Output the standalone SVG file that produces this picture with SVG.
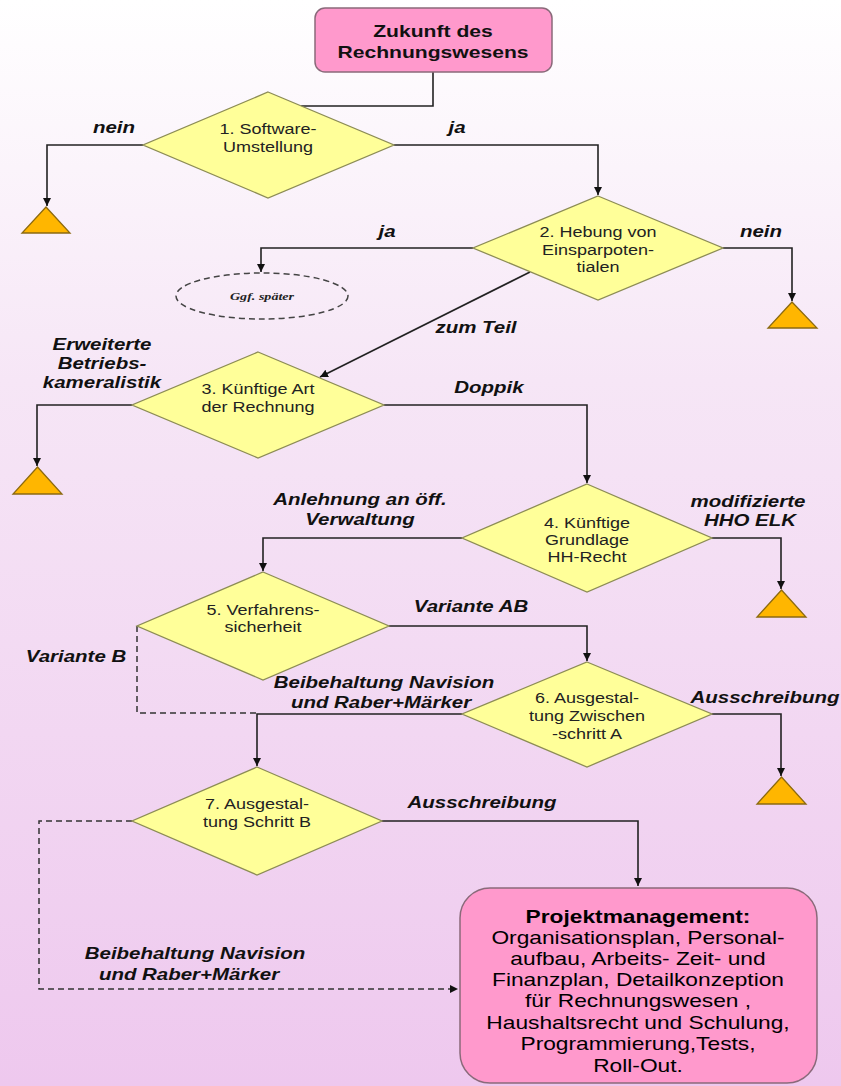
<svg xmlns="http://www.w3.org/2000/svg" width="841" height="1086" viewBox="0 0 841 1086">
<defs>
<linearGradient id="bg" x1="0" y1="0" x2="0" y2="1">
<stop offset="0" stop-color="#FFFFFF"/>
<stop offset="0.35" stop-color="#F6E6F6"/>
<stop offset="1" stop-color="#EEC8EE"/>
</linearGradient>
<marker id="arr" markerWidth="10" markerHeight="10" refX="8" refY="4" orient="auto" markerUnits="userSpaceOnUse">
<path d="M0,0 L8,4 L0,8 Z" fill="#111"/>
</marker>
<style>
.box{fill:#FF99CC;stroke:#8A6A7A;stroke-width:1.5}
.dia{fill:#FFFF99;stroke:#8C8C55;stroke-width:1.3}
.tri{fill:#FFB600;stroke:#8C6A10;stroke-width:1.3}
.con{fill:none;stroke:#222;stroke-width:1.6}
.dash{fill:none;stroke:#333;stroke-width:1.5;stroke-dasharray:6 4}
.dt{font-family:"Liberation Sans",Arial,sans-serif;font-size:15px;fill:#222;text-anchor:middle}
.lb{font-family:"Liberation Sans",Arial,sans-serif;font-size:16px;font-style:italic;font-weight:bold;fill:#111;text-anchor:middle}
.bt{font-family:"Liberation Sans",Arial,sans-serif;font-size:17.5px;fill:#000;text-anchor:middle}
.tt{font-family:"Liberation Sans",Arial,sans-serif;font-size:16.5px;font-weight:bold;fill:#111;text-anchor:middle}
.el{font-family:"Liberation Serif","Times New Roman",serif;font-size:11px;font-style:italic;font-weight:bold;fill:#222;text-anchor:middle}
</style>
</defs>
<rect x="0" y="0" width="841" height="1086" fill="url(#bg)"/>

<g id="connectors">
<polyline class="con" points="433,72 433,106 301,106"/>
<polyline class="con" points="143,145 47,145 47,206" marker-end="url(#arr)"/>
<polyline class="con" points="394,145 598,145 598,195" marker-end="url(#arr)"/>
<polyline class="con" points="473,248 261,248 261,272" marker-end="url(#arr)"/>
<polyline class="con" points="723,248 792,248 792,301" marker-end="url(#arr)"/>
<line class="con" x1="530" y1="272" x2="320" y2="377" marker-end="url(#arr)"/>
<polyline class="con" points="132,405 37,405 37,466" marker-end="url(#arr)"/>
<polyline class="con" points="384,405 587,405 587,483" marker-end="url(#arr)"/>
<polyline class="con" points="462,538 263,538 263,571" marker-end="url(#arr)"/>
<polyline class="con" points="712,538 781,538 781,589" marker-end="url(#arr)"/>
<polyline class="con" points="389,626 587,626 587,661" marker-end="url(#arr)"/>
<polyline class="dash" points="137,626 137,713 257,713"/>
<polyline class="con" points="462,714 257,714 257,766" marker-end="url(#arr)"/>
<polyline class="con" points="712,714 781,714 781,776" marker-end="url(#arr)"/>
<polyline class="con" points="382,821 638,821 638,886" marker-end="url(#arr)"/>
<polyline class="dash" points="132,821 39,821 39,989 458,989" marker-end="url(#arr)"/>
</g>

<g id="labels">
<text class="lb" transform="translate(114,133) scale(1.28,1)">nein</text>
<text class="lb" transform="translate(457,133) scale(1.28,1)">ja</text>
<text class="lb" transform="translate(387,237) scale(1.28,1)">ja</text>
<text class="lb" transform="translate(761,237) scale(1.28,1)">nein</text>
<text class="lb" transform="translate(476,333) scale(1.28,1)">zum Teil</text>
<text class="lb" transform="translate(102,350) scale(1.28,1)">Erweiterte</text>
<text class="lb" transform="translate(102,369) scale(1.28,1)">Betriebs-</text>
<text class="lb" transform="translate(102,388) scale(1.28,1)">kameralistik</text>
<text class="lb" transform="translate(489,393) scale(1.28,1)">Doppik</text>
<text class="lb" transform="translate(360,505) scale(1.28,1)">Anlehnung an öff.</text>
<text class="lb" transform="translate(360,525) scale(1.28,1)">Verwaltung</text>
<text class="lb" transform="translate(748,507) scale(1.28,1)">modifizierte</text>
<text class="lb" transform="translate(750,526) scale(1.28,1)">HHO ELK</text>
<text class="lb" transform="translate(471,612) scale(1.28,1)">Variante AB</text>
<text class="lb" transform="translate(76,662) scale(1.28,1)">Variante B</text>
<text class="lb" transform="translate(384,688) scale(1.28,1)">Beibehaltung Navision</text>
<text class="lb" transform="translate(381,708) scale(1.28,1)">und Raber+Märker</text>
<text class="lb" transform="translate(765,703) scale(1.28,1)">Ausschreibung</text>
<text class="lb" transform="translate(482,808) scale(1.28,1)">Ausschreibung</text>
<text class="lb" transform="translate(195,959) scale(1.28,1)">Beibehaltung Navision</text>
<text class="lb" transform="translate(189,980) scale(1.28,1)">und Raber+Märker</text>
</g>

<g id="start">
<rect class="box" x="315" y="8" width="237" height="64" rx="10"/>
<text class="tt" transform="translate(433,37) scale(1.28,1)">Zukunft des</text>
<text class="tt" transform="translate(433,58) scale(1.28,1)">Rechnungswesens</text>
</g>

<g id="d1">
<polygon class="dia" points="268,92 394,145 268,198 143,145"/>
<text class="dt" transform="translate(268,134) scale(1.2,1)">1. Software-</text>
<text class="dt" transform="translate(268,152) scale(1.2,1)">Umstellung</text>
</g>
<g id="t1"><polygon class="tri" points="46,207 70,233 22,233"/></g>

<g id="d2">
<polygon class="dia" points="598,196 723,248 598,300 473,248"/>
<text class="dt" transform="translate(598,237) scale(1.2,1)">2. Hebung von</text>
<text class="dt" transform="translate(598,255) scale(1.2,1)">Einsparpoten-</text>
<text class="dt" transform="translate(598,272) scale(1.2,1)">tialen</text>
</g>
<g id="e1">
<ellipse cx="262" cy="296" rx="86" ry="23" fill="none" stroke="#444" stroke-width="1.5" stroke-dasharray="6 4"/>
<text class="el" transform="translate(262,300) scale(1.28,1)">Ggf. später</text>
</g>
<g id="t2"><polygon class="tri" points="792,302 817,328 768,328"/></g>

<g id="d3">
<polygon class="dia" points="258,352 384,405 258,458 132,405"/>
<text class="dt" transform="translate(258,394) scale(1.2,1)">3. Künftige Art</text>
<text class="dt" transform="translate(258,412) scale(1.2,1)">der Rechnung</text>
</g>
<g id="t3"><polygon class="tri" points="37.5,467 62,494 13,494"/></g>

<g id="d4">
<polygon class="dia" points="587,484 712,538 587,592 462,538"/>
<text class="dt" transform="translate(587,528) scale(1.2,1)">4. Künftige</text>
<text class="dt" transform="translate(587,545) scale(1.2,1)">Grundlage</text>
<text class="dt" transform="translate(587,562) scale(1.2,1)">HH-Recht</text>
</g>
<g id="t4"><polygon class="tri" points="781.5,590 806,617 757,617"/></g>

<g id="d5">
<polygon class="dia" points="263,572 389,626 263,680 137,626"/>
<text class="dt" transform="translate(263,615) scale(1.2,1)">5. Verfahrens-</text>
<text class="dt" transform="translate(263,632) scale(1.2,1)">sicherheit</text>
</g>

<g id="d6">
<polygon class="dia" points="587,662 712,714 587,767 462,714"/>
<text class="dt" transform="translate(587,703) scale(1.2,1)">6. Ausgestal-</text>
<text class="dt" transform="translate(587,721) scale(1.2,1)">tung Zwischen</text>
<text class="dt" transform="translate(587,739) scale(1.2,1)">-schritt A</text>
</g>
<g id="t6"><polygon class="tri" points="781.5,777 806,804 757,804"/></g>

<g id="d7">
<polygon class="dia" points="257,767 382,821 257,875 132,821"/>
<text class="dt" transform="translate(257,809) scale(1.2,1)">7. Ausgestal-</text>
<text class="dt" transform="translate(257,827) scale(1.2,1)">tung Schritt B</text>
</g>

<g id="end">
<rect class="box" x="460" y="888" width="357" height="195" rx="30"/>
<text class="bt" font-weight="bold" transform="translate(638,923) scale(1.3,1)">Projektmanagement:</text>
<text class="bt" transform="translate(638,944) scale(1.3,1)">Organisationsplan, Personal-</text>
<text class="bt" transform="translate(638,965) scale(1.3,1)">aufbau, Arbeits- Zeit- und</text>
<text class="bt" transform="translate(638,986) scale(1.3,1)">Finanzplan, Detailkonzeption</text>
<text class="bt" transform="translate(638,1007) scale(1.3,1)">für Rechnungswesen ,</text>
<text class="bt" transform="translate(638,1029) scale(1.3,1)">Haushaltsrecht und Schulung,</text>
<text class="bt" transform="translate(638,1050) scale(1.3,1)">Programmierung,Tests,</text>
<text class="bt" transform="translate(638,1072) scale(1.3,1)">Roll-Out.</text>
</g>
</svg>
